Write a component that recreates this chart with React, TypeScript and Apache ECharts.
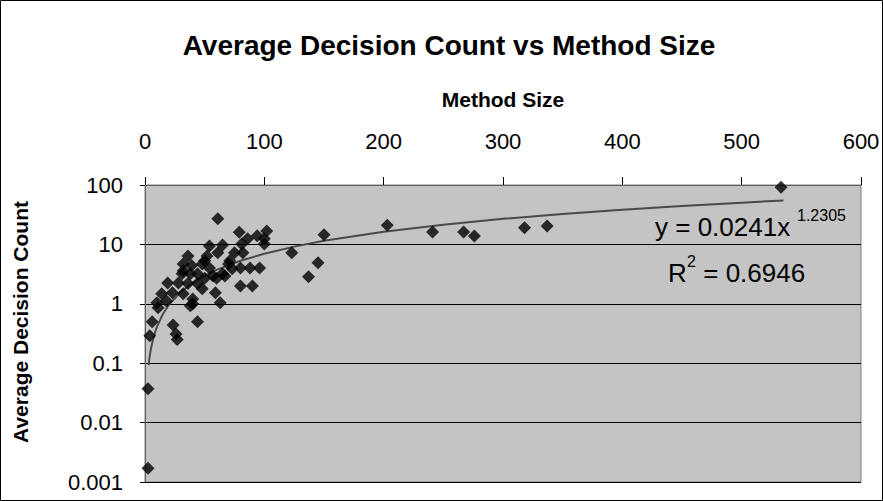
import React, { useEffect, useRef } from "react";
import * as echarts from "echarts";

const chartTitle = "Average Decision Count vs Method Size";
const xAxisName = "Method Size";
const yAxisName = "Average Decision Count";

const xTickMin = 0;
const xTickMax = 600;
const xTickStep = 100;
const yTickLabels = ["0.001", "0.01", "0.1", "1", "10", "100"];

// method size (x) and average decision count (y)
const methodSize = [
  2.5, 2.5, 4, 6, 10, 11, 14, 18, 19, 23, 23.5, 26, 27, 28, 31, 32, 32, 32, 36, 36,
  38, 38, 39, 40, 40, 44, 44, 44, 48, 48, 50, 50, 52, 54, 54, 57, 59, 60, 61, 61,
  63, 65, 65, 67, 70, 71, 73, 75, 79, 80, 80, 81, 82, 86, 88, 90, 94, 96, 100, 100,
  102, 123, 137, 145, 150, 203, 241, 267, 276, 318, 337, 533,
];
const decisionCount = [
  0.0017, 0.037, 0.29, 0.5, 1.04, 0.86, 1.47, 1.12, 2.25, 1.53, 0.44, 0.31, 0.25, 2.25, 3.2, 4.7, 1.47, 3.6, 6.4, 2.2,
  3.2, 0.93, 4.4, 1.2, 1.0, 2.2, 3.2, 0.5, 4.7, 1.8, 5.3, 2.7, 6.4, 9.4, 4.0, 2.95, 1.53, 2.7, 27, 7.2,
  1.04, 9.8, 3.2, 2.95, 4.7, 5.3, 3.9, 7.2, 16, 2.0, 4.0, 10.2, 7.2, 12.4, 4.0, 2.0, 14, 4.0, 12.4, 10.2,
  16.8, 7.2, 2.85, 4.9, 14.5, 21, 16.2, 16.2, 13.9, 19, 20.5, 92,
];

// power trendline shown on the chart: y = 0.0241 x^1.2305
const trendCoef = 0.0241;
const trendExp = 1.2305;
const trendSampleX = [3, 4, 5, 6, 8, 10, 15, 20, 30, 40, 50, 60, 80, 100, 125, 150, 200, 250, 300, 350, 400, 450, 500, 535];
const trendEquation = "y = 0.0241x";
const trendEquationExp = "1.2305";
const rSquaredValue = " = 0.6946";

const FONT = "'Liberation Sans', Arial, sans-serif";

export default function App() {
  const ref = useRef<HTMLDivElement>(null);

  useEffect(() => {
    if (!ref.current) return;
    const chart = echarts.init(ref.current, undefined, { renderer: "svg" });
    const points = methodSize.map((x, i) => [x, decisionCount[i]]);
    const trend = trendSampleX.map((x) => [x, trendCoef * Math.pow(x, trendExp)]);

    chart.setOption({
      animation: false,
      backgroundColor: "#ffffff",
      textStyle: { fontFamily: FONT },
      title: {
        text: chartTitle,
        left: 444,
        top: 26,
        textAlign: "center",
        textStyle: { fontFamily: FONT, fontSize: 28, fontWeight: "bold", color: "#000" },
      },
      grid: {
        left: 145,
        right: 22,
        top: 185,
        bottom: 19,
        show: true,
        backgroundColor: "#c4c4c4",
        borderColor: "#808080",
        borderWidth: 1,
      },
      xAxis: {
        type: "value",
        position: "top",
        min: xTickMin,
        max: xTickMax,
        interval: xTickStep,
        name: xAxisName,
        nameLocation: "middle",
        nameGap: 75,
        nameTextStyle: { fontFamily: FONT, fontSize: 21, fontWeight: "bold", color: "#000" },
        axisLine: { show: true, lineStyle: { color: "#606060", width: 1 } },
        axisTick: { show: true, length: 8, lineStyle: { color: "#000" } },
        axisLabel: { fontFamily: FONT, fontSize: 22, color: "#000", margin: 33 },
        splitLine: { show: false },
      },
      yAxis: {
        type: "log",
        logBase: 10,
        min: 0.001,
        max: 100,
        axisLine: { show: true, lineStyle: { color: "#606060", width: 1 } },
        axisTick: { show: true, length: 5, lineStyle: { color: "#000" } },
        axisLabel: {
          fontFamily: FONT,
          fontSize: 22,
          color: "#000",
          margin: 22,
          formatter: (v: number) => yTickLabels[Math.round(Math.log10(v)) + 3] ?? "",
        },
        splitLine: { show: true, lineStyle: { color: "#000", width: 1 } },
      },
      series: [
        {
          type: "scatter",
          data: points,
          symbol: "diamond",
          symbolSize: 13,
          itemStyle: { color: "#000" },
          z: 3,
        },
        {
          type: "line",
          data: trend,
          showSymbol: false,
          smooth: false,
          lineStyle: { color: "#4a4a4a", width: 2 },
          z: 2,
        },
      ],
      graphic: [
        {
          type: "rect",
          shape: { x: 0.5, y: 0.5, width: 882, height: 500 },
          style: { fill: "none", stroke: "#000", lineWidth: 1 },
          silent: true,
        },
        {
          type: "text",
          x: 20,
          y: 322,
          rotation: Math.PI / 2,
          style: {
            text: yAxisName,
            font: `bold 21px ${FONT}`,
            fill: "#000",
            align: "center",
            verticalAlign: "middle",
          },
        },
        {
          type: "text",
          x: 655,
          y: 227,
          style: { text: trendEquation, font: `26px ${FONT}`, fill: "#000", verticalAlign: "middle", align: "left" },
          z: 10,
        },
        {
          type: "text",
          x: 797,
          y: 215,
          style: { text: trendEquationExp, font: `16px ${FONT}`, fill: "#000", verticalAlign: "middle", align: "left" },
          z: 10,
        },
        {
          type: "text",
          x: 668,
          y: 273,
          style: { text: "R", font: `26px ${FONT}`, fill: "#000", verticalAlign: "middle", align: "left" },
          z: 10,
        },
        {
          type: "text",
          x: 687,
          y: 261,
          style: { text: "2", font: `16px ${FONT}`, fill: "#000", verticalAlign: "middle", align: "left" },
          z: 10,
        },
        {
          type: "text",
          x: 696,
          y: 273,
          style: { text: rSquaredValue, font: `26px ${FONT}`, fill: "#000", verticalAlign: "middle", align: "left" },
          z: 10,
        },
      ],
    });
    return () => chart.dispose();
  }, []);

  return (
    <div
      ref={ref}
      style={{ position: "absolute", left: 0, top: 0, width: 883, height: 501 }}
    />
  );
}
